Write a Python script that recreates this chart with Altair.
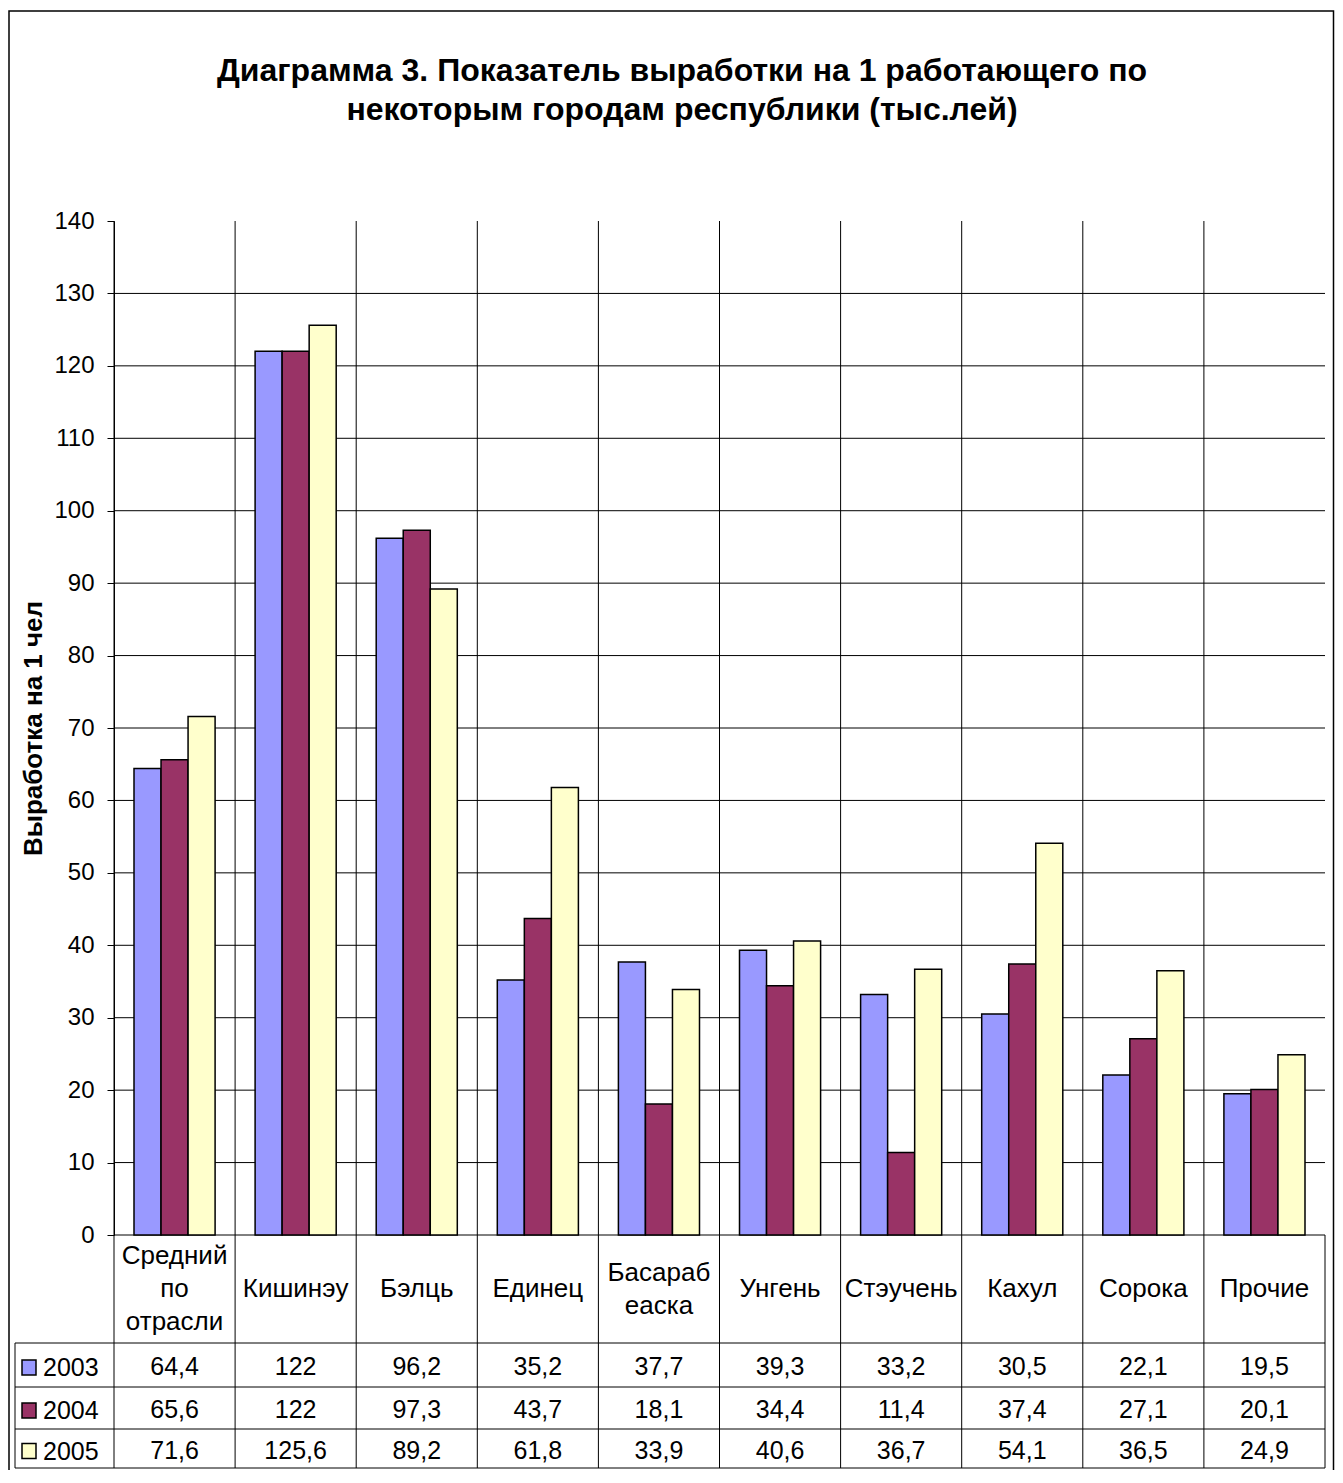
import altair as alt
import pandas as pd

# ---------------- data ----------------
categories = ["Средний\nпо\nотрасли", "Кишинэу", "Бэлць", "Единец", "Басараб\nеаска",
              "Унгень", "Стэучень", "Кахул", "Сорока", "Прочие"]
years = ["2003", "2004", "2005"]
v2003 = [64.4, 122, 96.2, 35.2, 37.7, 39.3, 33.2, 30.5, 22.1, 19.5]
v2004 = [65.6, 122, 97.3, 43.7, 18.1, 34.4, 11.4, 37.4, 27.1, 20.1]
v2005 = [71.6, 125.6, 89.2, 61.8, 33.9, 40.6, 36.7, 54.1, 36.5, 24.9]
colors = ["#9999FF", "#993366", "#FFFFCC"]
y_ticks = list(range(0, 141, 10))
grid_values = list(range(0, 131, 10))
title_lines = ["Диаграмма 3. Показатель выработки на 1 работающего по",
               "некоторым городам республики (тыс.лей)"]
y_title = "Выработка на 1 чел"

FONT = "Liberation Sans"
W, H = 1211, 1014
ROW_LINES = [1122, 1166, 1208, 1247]
TABLE_BOTTOM = ROW_LINES[-1]
LABEL_CENTER = 1068
LABEL_LH = 33


def fmt(v):
    return ("%g" % v).replace(".", ",")


series = {"2003": v2003, "2004": v2004, "2005": v2005}
rows = []
for yr in years:
    for c, v in zip(categories, series[yr]):
        rows.append({"cat": c, "year": yr, "value": v, "label": fmt(v)})
df = pd.DataFrame(rows)
one = pd.DataFrame({"a": [0]})
cat_df = pd.DataFrame({"cat": categories, "nlines": [c.count("\n") + 1 for c in categories]})

xscale = alt.Scale(domain=categories, paddingInner=0, paddingOuter=0)
yscale = alt.Scale(domain=[0, 140], nice=False, zero=True)
yaxis = alt.Axis(values=y_ticks, grid=False, domainColor="black", domainWidth=1,
                 tickColor="black", tickSize=7, tickWidth=1,
                 labelFont=FONT, labelFontSize=24, labelColor="black", labelPadding=13,
                 title=y_title, titleFont=FONT, titleFontSize=26, titleFontWeight="bold",
                 titleColor="black", titleX=-81, titleY=H / 2, titleAngle=270,
                 titleAlign="center", titleBaseline="middle")

border = alt.Chart(one).mark_rect(fill="white", fillOpacity=0, stroke="black", strokeWidth=1.5).encode(
    x=alt.value(-105), x2=alt.value(1219.5), y=alt.value(-210), y2=alt.value(1300))

title = alt.Chart(one).mark_text(font=FONT, fontSize=32, fontWeight="bold", lineHeight=39,
                                 align="center", baseline="alphabetic", color="black").encode(
    x=alt.value(568), y=alt.value(-140), text=alt.value(title_lines))

grid = alt.Chart(pd.DataFrame({"g": grid_values})).mark_rule(color="black", strokeWidth=1).encode(
    y=alt.Y("g:Q", scale=yscale, axis=yaxis), x=alt.value(0), x2=alt.value(W))

bars = alt.Chart(df).mark_bar(stroke="black", strokeWidth=1.5).encode(
    x=alt.X("cat:N", scale=xscale, axis=None),
    xOffset=alt.XOffset("year:N", scale=alt.Scale(domain=years, paddingInner=0, paddingOuter=0.74)),
    y=alt.Y("value:Q", scale=yscale, axis=yaxis),
    color=alt.Color("year:N", scale=alt.Scale(domain=years, range=colors), legend=None))

vlines = alt.Chart(cat_df).mark_rule(color="black", strokeWidth=1).encode(
    x=alt.X("cat:N", scale=xscale, axis=None, bandPosition=0),
    y=alt.value(0), y2=alt.value(TABLE_BOTTOM))

layers = [border, title, grid, bars, vlines]

# table frame
layers.append(alt.Chart(one).mark_rule(color="black", strokeWidth=1).encode(
    x=alt.value(W), y=alt.value(H), y2=alt.value(TABLE_BOTTOM)))
layers.append(alt.Chart(one).mark_rule(color="black", strokeWidth=1).encode(
    x=alt.value(-99), y=alt.value(ROW_LINES[0]), y2=alt.value(TABLE_BOTTOM)))
for yy in ROW_LINES:
    layers.append(alt.Chart(one).mark_rule(color="black", strokeWidth=1).encode(
        x=alt.value(-99), x2=alt.value(W), y=alt.value(yy)))

# category labels (multi-line, vertically centred in the cell)
for n in sorted(set(cat_df["nlines"])):
    layers.append(alt.Chart(cat_df).transform_filter(alt.datum.nlines == n).mark_text(
        font=FONT, fontSize=26, lineBreak="\n", lineHeight=LABEL_LH,
        align="center", baseline="middle", color="black").encode(
        x=alt.X("cat:N", scale=xscale, axis=None, bandPosition=0.5),
        y=alt.value(LABEL_CENTER - (n - 1) * LABEL_LH / 2), text="cat:N"))

for i, yr in enumerate(years):
    cy = (ROW_LINES[i] + ROW_LINES[i + 1]) / 2 + 2
    sub = df[df["year"] == yr]
    layers.append(alt.Chart(sub).mark_text(font=FONT, fontSize=25, align="center",
                                           baseline="middle", color="black").encode(
        x=alt.X("cat:N", scale=xscale, axis=None, bandPosition=0.5),
        y=alt.value(cy), text="label:N"))
    layers.append(alt.Chart(pd.DataFrame({"year": [yr]})).mark_rect(
        stroke="black", strokeWidth=1.5, fill=colors[i]).encode(
        x=alt.value(-92), x2=alt.value(-78), y=alt.value(cy - 7), y2=alt.value(cy + 8)))
    layers.append(alt.Chart(pd.DataFrame({"year": [yr]})).mark_text(
        font=FONT, fontSize=25, align="left", baseline="middle", color="black").encode(
        x=alt.value(-71), y=alt.value(cy + 1), text="year:N"))

chart = alt.layer(*layers).properties(
    width=W, height=H,
    autosize=alt.AutoSizeParams(type="none"),
    padding={"left": 106, "top": 213, "right": 10, "bottom": 235},
    background="white",
).configure_view(strokeWidth=0)

chart.save("out.html", embed_options={"renderer": "svg", "actions": False})
